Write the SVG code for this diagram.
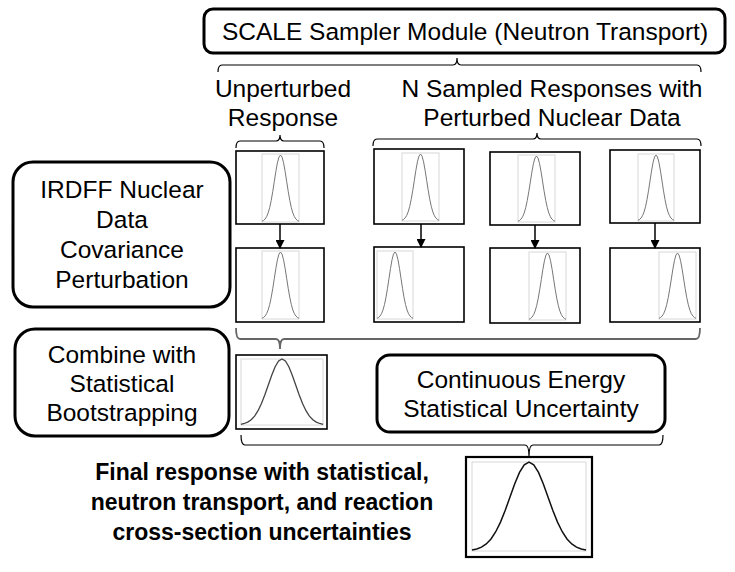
<svg xmlns="http://www.w3.org/2000/svg" xmlns:xlink="http://www.w3.org/1999/xlink" width="735" height="572" viewBox="0 0 735 572">
<style>
.box{fill:#fff;stroke:#000;stroke-width:3}
.t{font-family:"Liberation Sans",Arial,sans-serif;font-size:24.5px;fill:#000;text-anchor:middle}
.tb{font-family:"Liberation Sans",Arial,sans-serif;font-size:23px;font-weight:bold;fill:#000;text-anchor:middle}
.plot{fill:#fff;stroke:#000;stroke-width:1.6}
.frame{fill:none;stroke:#d8d8d8;stroke-width:1}
.brace{fill:none;stroke:#000;stroke-width:1.2}
.arrow{stroke:#000;stroke-width:1.5}
</style>
<defs>
<path id="g" vector-effect="non-scaling-stroke" fill="none" d="M-3,-0.0111 L-2.75,-0.0228 L-2.5,-0.0439 L-2.25,-0.0796 L-2,-0.1353 L-1.75,-0.2163 L-1.5,-0.3247 L-1.25,-0.4578 L-1,-0.6065 L-0.75,-0.7548 L-0.5,-0.8825 L-0.25,-0.9692 L0,-1 L0.25,-0.9692 L0.5,-0.8825 L0.75,-0.7548 L1,-0.6065 L1.25,-0.4578 L1.5,-0.3247 L1.75,-0.2163 L2,-0.1353 L2.25,-0.0796 L2.5,-0.0439 L2.75,-0.0228 L3,-0.0111"/>
<marker id="ah" markerWidth="9" markerHeight="9" refX="8" refY="4.5" orient="auto" markerUnits="userSpaceOnUse"><path d="M0,0 L9,4.5 L0,9 Z" fill="#000"/></marker>
</defs>

<g id="scale">
<rect class="box" x="204" y="9" width="521" height="44" rx="9"/>
<text class="t" x="465" y="40">SCALE Sampler Module (Neutron Transport)</text>
</g>

<g id="label-unperturbed">
<text class="t" x="283" y="97">Unperturbed</text>
<text class="t" x="283" y="126">Response</text>
</g>
<g id="label-sampled">
<text class="t" x="552" y="97">N Sampled Responses with</text>
<text class="t" x="552" y="126">Perturbed Nuclear Data</text>
</g>

<g id="irdff">
<rect class="box" x="13" y="162" width="217" height="145" rx="20"/>
<text class="t" x="122" y="198">IRDFF Nuclear</text>
<text class="t" x="122" y="228">Data</text>
<text class="t" x="122" y="258">Covariance</text>
<text class="t" x="122" y="288">Perturbation</text>
</g>

<g id="combine">
<rect class="box" x="15" y="329" width="214" height="107" rx="20"/>
<text class="t" x="122" y="363">Combine with</text>
<text class="t" x="122" y="392">Statistical</text>
<text class="t" x="122" y="421">Bootstrapping</text>
</g>

<g id="continuous">
<rect class="box" x="377" y="355" width="288" height="77" rx="13"/>
<text class="t" x="521" y="388">Continuous Energy</text>
<text class="t" x="521" y="417">Statistical Uncertainty</text>
</g>

<g id="final-label">
<text class="tb" x="262" y="480">Final response with statistical,</text>
<text class="tb" x="262" y="510">neutron transport, and reaction</text>
<text class="tb" x="262" y="540">cross-section uncertainties</text>
</g>

<g id="plot-u1">
<rect class="plot" x="236" y="151" width="88" height="73"/>
<rect class="frame" x="262" y="154" width="37" height="68"/>
<use xlink:href="#g" stroke="#777" stroke-width="1" transform="translate(280.5,222) scale(6.17,67)"/>
</g>
<g id="plot-s1">
<rect class="plot" x="374" y="149" width="90" height="75"/>
<rect class="frame" x="402" y="153" width="37" height="68"/>
<use xlink:href="#g" stroke="#777" stroke-width="1" transform="translate(420.5,221) scale(6.17,67)"/>
</g>
<g id="plot-s2">
<rect class="plot" x="490" y="152" width="90" height="73"/>
<rect class="frame" x="518" y="155" width="37" height="67"/>
<use xlink:href="#g" stroke="#777" stroke-width="1" transform="translate(536.5,222) scale(6.17,66)"/>
</g>
<g id="plot-s3">
<rect class="plot" x="610" y="150" width="90" height="73"/>
<rect class="frame" x="638" y="154" width="36" height="67"/>
<use xlink:href="#g" stroke="#777" stroke-width="1" transform="translate(656,221) scale(6,66)"/>
</g>

<g id="plot-u2">
<rect class="plot" x="236" y="248" width="88" height="74"/>
<rect class="frame" x="262" y="251" width="37" height="68"/>
<use xlink:href="#g" stroke="#777" stroke-width="1" transform="translate(280.5,319) scale(6.17,67)"/>
</g>
<g id="plot-p1">
<rect class="plot" x="374" y="247" width="90" height="75"/>
<rect class="frame" x="377" y="251" width="36" height="68"/>
<use xlink:href="#g" stroke="#777" stroke-width="1" transform="translate(395,319) scale(6,67)"/>
</g>
<g id="plot-p2">
<rect class="plot" x="490" y="248" width="90" height="75"/>
<rect class="frame" x="529" y="252" width="37" height="68"/>
<use xlink:href="#g" stroke="#777" stroke-width="1" transform="translate(547.5,320) scale(6.17,67)"/>
</g>
<g id="plot-p3">
<rect class="plot" x="610" y="248" width="90" height="74"/>
<rect class="frame" x="659" y="252" width="37" height="67"/>
<use xlink:href="#g" stroke="#777" stroke-width="1" transform="translate(677.5,319) scale(6.17,66)"/>
</g>

<g id="plot-combined">
<rect class="plot" x="236" y="355" width="91" height="74"/>
<rect class="frame" x="241" y="359" width="82" height="66"/>
<use xlink:href="#g" stroke="#444" stroke-width="1.3" transform="translate(282,425) scale(13.7,66)"/>
</g>

<g id="plot-final">
<rect class="plot" x="466" y="457" width="126" height="100" style="stroke-width:2.2"/>
<rect class="frame" x="472" y="462" width="114" height="89"/>
<use xlink:href="#g" stroke="#111" stroke-width="1.5" transform="translate(529,551) scale(19,89)"/>
</g>

<g id="connectors">
<path class="brace" d="M218,72 Q218,65 222,65 L453,65 Q457,65 457,58 Q457,65 461,65 L697,65 Q701,65 701,72"/>
<path class="brace" d="M236,148 Q236,141 240,141 L276,141 Q280,141 280,135 Q280,141 284,141 L320,141 Q324,141 324,148"/>
<path class="brace" d="M373,146 Q373,139 377,139 L533,139 Q537,139 537,133 Q537,139 541,139 L697,139 Q701,139 701,146"/>
<path class="brace" style="stroke:#666;stroke-width:1.8" d="M236,328 Q236,339 240,339 L276,339 Q280,339 280,349 Q280,339 284,339 L696,339 Q700,339 700,328"/>
<path class="brace" d="M241,435 Q241,445 245,445 L525,445 Q529,445 529,456 Q529,445 533,445 L659,445 Q663,445 663,435"/>
<line class="arrow" x1="280" y1="224" x2="280" y2="248" marker-end="url(#ah)"/>
<line class="arrow" x1="421" y1="224" x2="421" y2="247" marker-end="url(#ah)"/>
<line class="arrow" x1="535" y1="225" x2="535" y2="248" marker-end="url(#ah)"/>
<line class="arrow" x1="655" y1="223" x2="655" y2="248" marker-end="url(#ah)"/>
</g>
</svg>
